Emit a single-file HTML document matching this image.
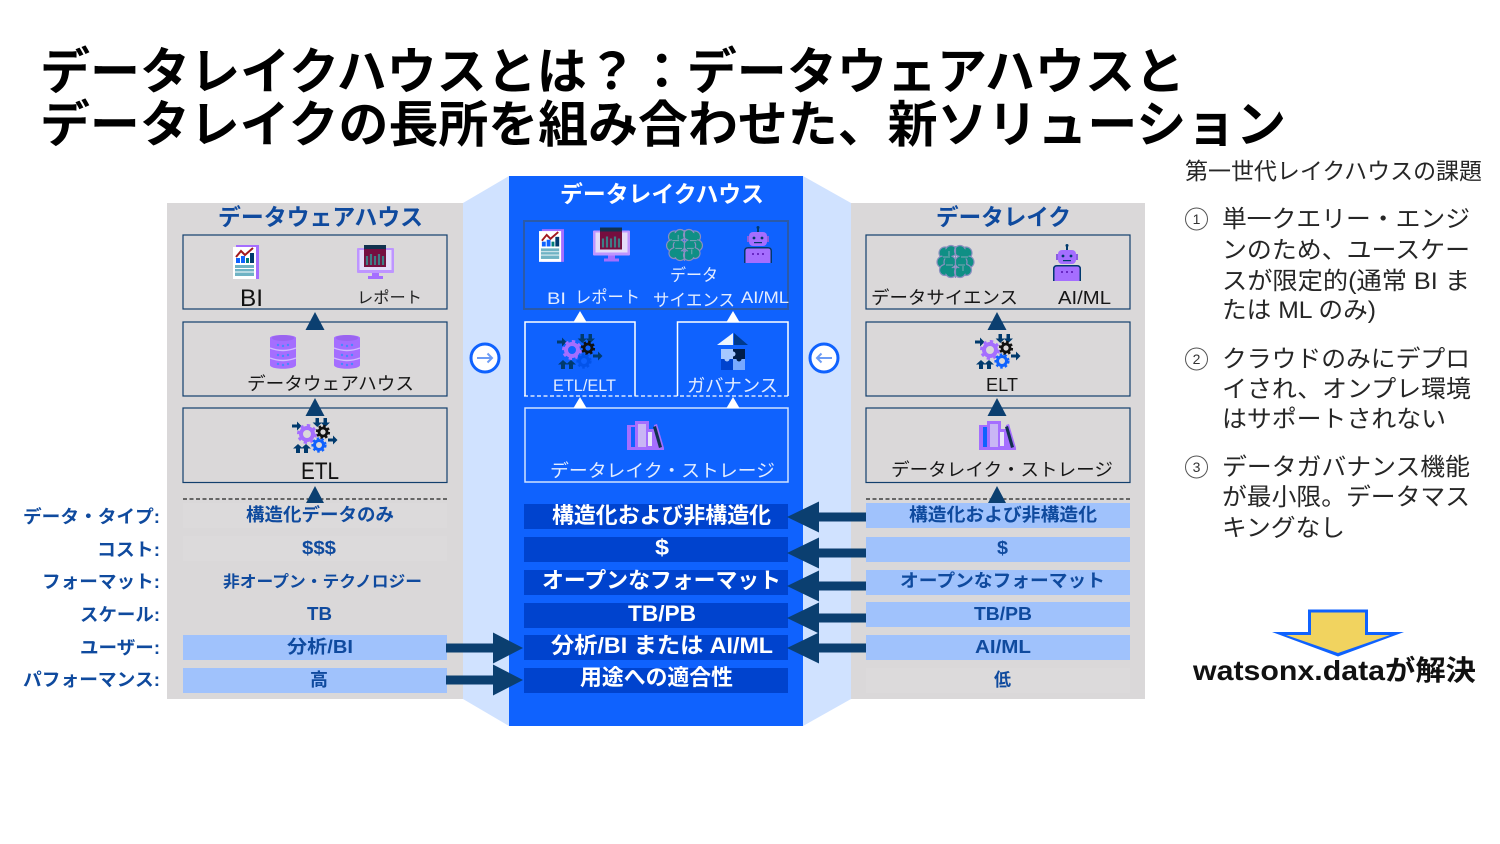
<!DOCTYPE html>
<html lang="ja"><head><meta charset="utf-8"><title>データレイクハウスとは</title>
<style>
html,body{margin:0;padding:0;background:#fff;width:1500px;height:844px;overflow:hidden}
svg{display:block}
text{font-family:"Liberation Sans","Noto Sans CJK JP",sans-serif;}
.t{font-weight:700;fill:#000;font-size:50px}
.h{font-weight:700;font-size:23px}
.lb{font-weight:700;fill:#0f4a9e;font-size:18px}
.w{font-weight:700;fill:#fff;font-size:22px}
.n{fill:#161616;font-size:18px}
.c{fill:#e4edff;font-size:17px}
.r{fill:#262626;font-size:24px}
</style></head><body>
<svg width="1500" height="844" viewBox="0 0 1500 844" xmlns="http://www.w3.org/2000/svg">
<defs>
<symbol id="report" viewBox="0 0 26 34" overflow="visible">
<rect x="3" y="0" width="23" height="34" fill="#a56eff"/><rect x="0" y="2" width="23" height="32" fill="#fff"/>
<polyline points="3,12 8,6 12,10 20,3" fill="none" stroke="#a2191f" stroke-width="2"/>
<rect x="3" y="13" width="4" height="5" fill="#0f62fe"/><rect x="8" y="11" width="4" height="7" fill="#0f62fe"/><rect x="13" y="13" width="3" height="5" fill="#007d79"/><rect x="17" y="8" width="4" height="10" fill="#003a6d"/>
<rect x="2" y="20" width="19" height="11" fill="#6fb3c4"/><path d="M2 23.500h19M2 27h19" stroke="#fff" stroke-width=".9"/>
</symbol>
<symbol id="monitor" viewBox="0 0 37 35" overflow="visible">
<rect x="0" y="3" width="37" height="25" rx="1" fill="#be95ff"/><rect x="2.500" y="5" width="32" height="20" fill="#e4dcf8"/>
<rect x="7" y="0" width="22" height="22" fill="#750e3f"/><rect x="7" y="0" width="22" height="4" fill="#12324f"/>
<path d="M10 11v9M14 9v11M18 11v9M22 9v11M26 11v9" stroke="#3f7d85" stroke-width="2.200"/>
<path d="M15 28h7v3h4v3H11v-3h4z" fill="#a56eff"/>
</symbol>
<symbol id="db" viewBox="0 0 26 35" overflow="visible">
<path d="M0 4C0 0 26 0 26 4V31C26 36 0 36 0 31Z" fill="#a56eff"/>
<ellipse cx="13" cy="4" rx="11" ry="3" fill="#9a64f0"/>
<path d="M0 14q13 5 26 0M0 24q13 5 26 0" fill="none" stroke="#d4bbff" stroke-width="1.400"/>
<g fill="#4589ff"><circle cx="8" cy="11" r="1.200"/><circle cx="13" cy="12" r="1.200"/><circle cx="18" cy="11" r="1.200"/><circle cx="8" cy="21" r="1.200"/><circle cx="13" cy="22" r="1.200"/><circle cx="18" cy="21" r="1.200"/><circle cx="8" cy="30" r="1.200"/><circle cx="13" cy="31" r="1.200"/><circle cx="18" cy="30" r="1.200"/></g>
</symbol>
<symbol id="arrows" viewBox="0 0 46 36" overflow="visible">
<g fill="#003a6d">
<path d="M0 6.500h5V3.500l4.500 4.500-4.500 4.500V9.500H0z"/><path d="M36 20.500h5v-3l4.500 4.500-4.500 4.500v-3h-5z"/>
<path d="M23.500 0h3.500v4.500H30l-4.700 4.500-4.700-4.500h2.900z"/><path d="M31.500 0H35v4.500h3l-4.700 4.500-4.700-4.500h2.900z"/>
<path d="M4 35v-4.500H1l5-4.500 5 4.500H8V35z"/><path d="M12 35v-4.500H9l5-4.500 5 4.500h-3V35z"/>
</g>
</symbol>
<symbol id="brain" viewBox="0 0 37 34" overflow="visible">
<g fill="#0f8f85" stroke="#8a8fc0" stroke-width="1.200">
<circle cx="8" cy="8" r="6"/><circle cx="14" cy="6" r="5.500"/><circle cx="6" cy="17" r="6"/><circle cx="8" cy="25" r="5.500"/><circle cx="14" cy="27" r="5.500"/><circle cx="13" cy="17" r="6"/>
<circle cx="29" cy="8" r="6"/><circle cx="23" cy="6" r="5.500"/><circle cx="31" cy="17" r="6"/><circle cx="29" cy="25" r="5.500"/><circle cx="23" cy="27" r="5.500"/><circle cx="24" cy="17" r="6"/>
</g>
<g fill="#0f8f85"><circle cx="10" cy="9" r="5"/><circle cx="13" cy="17" r="5"/><circle cx="10" cy="24" r="5"/><circle cx="27" cy="9" r="5"/><circle cx="24" cy="17" r="5"/><circle cx="27" cy="24" r="5"/></g>
<path d="M18.500 1V33" stroke="#8a8fc0" stroke-width="1.200"/>
<path d="M6 12h7M9 20h7M24 12h7M21 20h7M12 6v5M26 26v-5" stroke="#7fa8b8" stroke-width="1" fill="none"/>
</symbol>
<symbol id="robot" viewBox="0 0 28 37" overflow="visible">
<circle cx="14" cy="1.500" r="1.500" fill="#003a6d"/><rect x="13" y="2" width="2" height="4" fill="#003a6d"/>
<rect x="5" y="6" width="18" height="14" rx="4" fill="#a56eff"/>
<rect x="3" y="10" width="2" height="6" fill="#8a5ce0"/><rect x="23" y="10" width="2" height="6" fill="#8a5ce0"/>
<circle cx="10" cy="12" r="1.400" fill="#003a6d"/><circle cx="18" cy="12" r="1.400" fill="#003a6d"/><rect x="10" y="16" width="8" height="1.200" fill="#003a6d"/>
<path d="M0 37V25q0-4 4-4h20q4 0 4 4v12z" fill="#a56eff"/><path d="M0 37V25q0-4 4-4h20q4 0 4 4v12h-1.500V25q0-2.500-2.500-2.500H4q-2.500 0-2.500 2.500v12z" fill="#003a6d"/>
<rect x="8" y="27" width="2" height="2" fill="#6929c4"/><rect x="13" y="27" width="2" height="2" fill="#6929c4"/><rect x="18" y="27" width="2" height="2" fill="#6929c4"/>
</symbol>
<symbol id="books" viewBox="0 0 37 29" overflow="visible">
<path d="M0 4h8V0h14v8h5V4l3-1 7 24v2H0z" fill="#a56eff"/>
<rect x="4" y="6" width="4" height="20" fill="#0f62fe"/><rect x="11" y="3" width="8" height="23" fill="#c9b6f5"/>
<rect x="21" y="11" width="4" height="14" fill="#e8e4f8"/><path d="M26 6l3-1 6 21-3 1z" fill="#12324f"/>
</symbol>
<symbol id="puzzle" viewBox="0 0 31 37" overflow="visible">
<path d="M16 0L0 12h16z" fill="#edf5ff"/><path d="M17 0L31 12H17z" fill="#003a8c"/>
<rect x="4" y="16" width="12" height="10" fill="#a6c8ff"/><rect x="16" y="16" width="12" height="10" fill="#001d4a"/>
<rect x="4" y="26" width="12" height="11" fill="#0043ce"/><rect x="16" y="26" width="12" height="11" fill="#78a9ff"/>
<circle cx="16" cy="21" r="2.500" fill="#a6c8ff"/><circle cx="22" cy="26" r="2.500" fill="#001d4a"/><circle cx="10" cy="26" r="2.500" fill="#a6c8ff"/>
</symbol>
<g id="gearsL">
<use href="#arrows" width="46" height="36"/>
<circle cx="15" cy="16" r="6" fill="none" stroke="#a56eff" stroke-width="4"/><circle cx="15" cy="16" r="8.500" fill="none" stroke="#a56eff" stroke-width="3" stroke-dasharray="3.300 3.300"/>
<circle cx="31" cy="14" r="4" fill="none" stroke="#111" stroke-width="2.800"/><circle cx="31" cy="14" r="6" fill="none" stroke="#111" stroke-width="2.200" stroke-dasharray="2.500 2.200"/>
</g>
<polygon id="tw" points="0,-11 6.500,0 -6.500,0" fill="#fff"/>
<polygon id="td" points="0,-18 9.500,0 -9.500,0" fill="#0b3f70"/>
<path id="al" d="M0 0L32-15.500V-4.500H79V4.500H32V15.500Z" fill="#0b3f70"/>
<path id="ar" d="M77 0L47-15.500V-4.500H0V4.500H47V15.500Z" fill="#0b3f70"/>
</defs>

<!-- title -->
<text class="t" x="40" y="89" textLength="1145" lengthAdjust="spacingAndGlyphs">データレイクハウスとは？：データウェアハウスと</text>
<text class="t" x="40" y="142" textLength="1246" lengthAdjust="spacingAndGlyphs">データレイクの長所を組み合わせた、新ソリューション</text>

<!-- backgrounds -->
<polygon points="463,203 509,176 509,726 463,699" fill="#d0e2ff"/>
<polygon points="803,176 851,203 851,699 803,726" fill="#d0e2ff"/>
<rect x="167" y="203" width="296" height="496" fill="#dad8d9"/>
<rect x="851" y="203" width="294" height="496" fill="#dad8d9"/>
<rect x="509" y="176" width="294" height="550" fill="#0f62fe"/>

<!-- left panel -->
<text class="h" x="218" y="225" textLength="205" lengthAdjust="spacingAndGlyphs" fill="#0f4a9e">データウェアハウス</text>
<g fill="none" stroke="#123f6d" stroke-width="1.200">
<rect x="183" y="235" width="264" height="74"/><rect x="183" y="322" width="264" height="74"/><rect x="183" y="408" width="264" height="74.500"/>
<rect x="866" y="235" width="264" height="74"/><rect x="866" y="322" width="264" height="74"/><rect x="866" y="408" width="264" height="74.500"/>
</g>
<use href="#report" x="233" y="245" width="26" height="34"/>
<use href="#monitor" x="357" y="245" width="37" height="35"/>
<use href="#db" x="270" y="334" width="26" height="35"/>
<use href="#db" x="334" y="334" width="26" height="35"/>
<use href="#gearsL" x="292" y="418"/>
<circle cx="319" cy="445" r="4.500" fill="none" stroke="#0f62fe" stroke-width="3"/><circle cx="319" cy="445" r="6.500" fill="none" stroke="#0f62fe" stroke-width="2.200" stroke-dasharray="2.500 2.200"/>
<text x="240" y="306" font-size="24" fill="#111" textLength="23" lengthAdjust="spacingAndGlyphs">BI</text>
<text x="357" y="303" font-size="16" fill="#222" textLength="65" lengthAdjust="spacingAndGlyphs">レポート</text>
<text class="n" x="247" y="390" textLength="167" lengthAdjust="spacingAndGlyphs">データウェアハウス</text>
<text x="301" y="479" font-size="24" fill="#111" textLength="38" lengthAdjust="spacingAndGlyphs">ETL</text>
<path d="M183 499H447M866 499H1130" stroke="#222" stroke-width="1.200" stroke-dasharray="4 2.500"/>
<use href="#td" x="315" y="330"/><use href="#td" x="315" y="416"/><use href="#td" x="315" y="504"/>
<use href="#td" x="997" y="330"/><use href="#td" x="997" y="416"/><use href="#td" x="997" y="504"/>

<!-- left rows -->
<g fill="#dcdadb"><rect x="183" y="503" width="264" height="25"/><rect x="183" y="536" width="264" height="25"/></g>
<g fill="#a0c2fc"><rect x="183" y="635" width="264" height="25"/><rect x="183" y="668" width="264" height="25"/>
<rect x="866" y="503" width="264" height="25"/><rect x="866" y="537" width="264" height="25"/><rect x="866" y="570" width="264" height="25"/><rect x="866" y="602" width="264" height="25"/><rect x="866" y="635" width="264" height="25"/></g>
<rect x="866" y="668" width="264" height="25" fill="#dcdadb"/>

<text class="lb" x="246" y="521" textLength="148" lengthAdjust="spacingAndGlyphs">構造化データのみ</text>
<text class="lb" x="302" y="554" textLength="34" lengthAdjust="spacingAndGlyphs">$$$</text>
<text class="lb" x="223" y="587" style="font-size:16px" textLength="199" lengthAdjust="spacingAndGlyphs">非オープン・テクノロジー</text>
<text class="lb" x="307" y="620" textLength="25" lengthAdjust="spacingAndGlyphs">TB</text>
<text class="lb" x="287" y="653" textLength="66" lengthAdjust="spacingAndGlyphs">分析/BI</text>
<text class="lb" x="310" y="686" textLength="18" lengthAdjust="spacingAndGlyphs">高</text>

<text class="lb" x="23" y="523" textLength="137" lengthAdjust="spacingAndGlyphs">データ・タイプ:</text>
<text class="lb" x="97" y="556" textLength="63" lengthAdjust="spacingAndGlyphs">コスト:</text>
<text class="lb" x="42" y="588" textLength="118" lengthAdjust="spacingAndGlyphs">フォーマット:</text>
<text class="lb" x="80" y="621" textLength="80" lengthAdjust="spacingAndGlyphs">スケール:</text>
<text class="lb" x="80" y="654" textLength="80" lengthAdjust="spacingAndGlyphs">ユーザー:</text>
<text class="lb" x="23" y="686" textLength="137" lengthAdjust="spacingAndGlyphs">パフォーマンス:</text>

<!-- center panel -->
<text class="h" x="560" y="202" fill="#fff" textLength="204" lengthAdjust="spacingAndGlyphs">データレイクハウス</text>
<rect x="524" y="221" width="264" height="88" fill="none" stroke="#2b5aa8" stroke-width="2"/>
<path d="M525 396V322H635V396M677.500 396V322H788V396" fill="none" stroke="#fff" stroke-width="1.500"/>
<path d="M524 396H788" stroke="#fff" stroke-width="1.300" stroke-dasharray="4 2.500"/>
<rect x="525" y="408" width="263" height="74" fill="none" stroke="#d0e2ff" stroke-width="1.500"/>
<use href="#tw" x="580" y="322"/><use href="#tw" x="733" y="322"/><use href="#tw" x="580" y="408"/><use href="#tw" x="733" y="408"/>
<use href="#report" x="539" y="229" width="25" height="33"/>
<use href="#monitor" x="593" y="227" width="37" height="36"/>
<use href="#brain" x="666" y="229" width="37" height="33"/>
<use href="#robot" x="744" y="226" width="28" height="37"/>
<use href="#gearsL" x="557" y="334"/>
<circle cx="584" cy="361" r="4.500" fill="none" stroke="#0353e9" stroke-width="3"/><circle cx="584" cy="361" r="6.500" fill="none" stroke="#0353e9" stroke-width="2.200" stroke-dasharray="2.500 2.200"/>
<use href="#puzzle" x="717" y="333" width="31" height="37"/>
<use href="#books" x="627" y="421" width="37" height="29"/>
<text class="c" x="547" y="304" textLength="19" lengthAdjust="spacingAndGlyphs">BI</text>
<text class="c" x="575" y="303" textLength="65" lengthAdjust="spacingAndGlyphs">レポート</text>
<text class="c" x="670" y="281" textLength="48" lengthAdjust="spacingAndGlyphs">データ</text>
<text class="c" x="653" y="306" textLength="82" lengthAdjust="spacingAndGlyphs">サイエンス</text>
<text class="c" x="741" y="303" textLength="48" lengthAdjust="spacingAndGlyphs">AI/ML</text>
<text class="c" x="553" y="391" textLength="63" lengthAdjust="spacingAndGlyphs">ETL/ELT</text>
<text class="c" x="687" y="392" style="font-size:18px" textLength="91" lengthAdjust="spacingAndGlyphs">ガバナンス</text>
<text class="c" x="550" y="477" style="font-size:18px" textLength="225" lengthAdjust="spacingAndGlyphs">データレイク・ストレージ</text>

<g fill="#0043ce"><rect x="524" y="504" width="264" height="25"/><rect x="524" y="537" width="264" height="25"/><rect x="524" y="570" width="264" height="25"/><rect x="524" y="603" width="264" height="25"/><rect x="524" y="635" width="264" height="25"/><rect x="524" y="668" width="264" height="25"/></g>
<text class="w" x="552" y="523" textLength="219" lengthAdjust="spacingAndGlyphs">構造化および非構造化</text>
<text class="w" x="655" y="555" textLength="14" lengthAdjust="spacingAndGlyphs">$</text>
<text class="w" x="542" y="588" textLength="239" lengthAdjust="spacingAndGlyphs">オープンなフォーマット</text>
<text class="w" x="628" y="621" textLength="68" lengthAdjust="spacingAndGlyphs">TB/PB</text>
<text class="w" x="551" y="653" textLength="222" lengthAdjust="spacingAndGlyphs">分析/BI または AI/ML</text>
<text class="w" x="580" y="685" textLength="153" lengthAdjust="spacingAndGlyphs">用途への適合性</text>

<!-- right panel -->
<text class="h" x="936" y="225" fill="#0f4a9e" textLength="135" lengthAdjust="spacingAndGlyphs">データレイク</text>
<use href="#brain" x="937" y="245" width="37" height="34"/>
<use href="#robot" x="1053" y="244" width="28" height="37"/>
<use href="#gearsL" x="975" y="334"/>
<circle cx="1002" cy="361" r="4.500" fill="none" stroke="#0f62fe" stroke-width="3"/><circle cx="1002" cy="361" r="6.500" fill="none" stroke="#0f62fe" stroke-width="2.200" stroke-dasharray="2.500 2.200"/>
<use href="#books" x="979" y="421" width="37" height="29"/>
<text class="n" x="871" y="304" textLength="147" lengthAdjust="spacingAndGlyphs">データサイエンス</text>
<text class="n" x="1058" y="304" textLength="53" lengthAdjust="spacingAndGlyphs">AI/ML</text>
<text class="n" x="986" y="391" textLength="32" lengthAdjust="spacingAndGlyphs">ELT</text>
<text class="n" x="891" y="476" textLength="222" lengthAdjust="spacingAndGlyphs">データレイク・ストレージ</text>
<text class="lb" x="909" y="521" textLength="188" lengthAdjust="spacingAndGlyphs">構造化および非構造化</text>
<text class="lb" x="997" y="554" textLength="11" lengthAdjust="spacingAndGlyphs">$</text>
<text class="lb" x="900" y="587" textLength="205" lengthAdjust="spacingAndGlyphs">オープンなフォーマット</text>
<text class="lb" x="974" y="620" textLength="58" lengthAdjust="spacingAndGlyphs">TB/PB</text>
<text class="lb" x="975" y="653" textLength="56" lengthAdjust="spacingAndGlyphs">AI/ML</text>
<text class="lb" x="994" y="686" textLength="17" lengthAdjust="spacingAndGlyphs">低</text>

<!-- arrows -->
<use href="#al" x="787" y="517"/><use href="#al" x="787" y="553"/><use href="#al" x="787" y="586"/><use href="#al" x="787" y="618"/><use href="#al" x="787" y="648"/>
<use href="#ar" x="446" y="648"/><use href="#ar" x="446" y="680"/>

<!-- circles -->
<circle cx="485" cy="358" r="14" fill="#fff" stroke="#0f62fe" stroke-width="3"/>
<path d="M477 358H492M487.500 353.500L492 358 487.500 362.500" fill="none" stroke="#6d9cf5" stroke-width="2"/>
<circle cx="824" cy="358" r="14" fill="#fff" stroke="#0f62fe" stroke-width="3"/>
<path d="M832 358H817M821.500 353.500L817 358 821.500 362.500" fill="none" stroke="#6d9cf5" stroke-width="2"/>

<!-- right text -->
<text x="1185" y="179" font-size="23" fill="#262626" textLength="297" lengthAdjust="spacingAndGlyphs">第一世代レイクハウスの課題</text>
<g fill="none" stroke="#555" stroke-width="1"><circle cx="1196.500" cy="219" r="11"/><circle cx="1196.500" cy="359" r="11"/><circle cx="1196.500" cy="467" r="11"/></g>
<g font-size="14" fill="#333" text-anchor="middle"><text x="1196.500" y="224">1</text><text x="1196.500" y="364">2</text><text x="1196.500" y="472">3</text></g>
<text class="r" x="1222" y="227" textLength="248" lengthAdjust="spacingAndGlyphs">単一クエリー・エンジ</text>
<text class="r" x="1222" y="258" textLength="248" lengthAdjust="spacingAndGlyphs">ンのため、ユースケー</text>
<text class="r" x="1222" y="289" textLength="248" lengthAdjust="spacingAndGlyphs">スが限定的(通常 BI ま</text>
<text class="r" x="1222" y="318" textLength="154" lengthAdjust="spacingAndGlyphs">たは ML のみ)</text>
<text class="r" x="1222" y="367" textLength="248" lengthAdjust="spacingAndGlyphs">クラウドのみにデプロ</text>
<text class="r" x="1222" y="397" textLength="249" lengthAdjust="spacingAndGlyphs">イされ、オンプレ環境</text>
<text class="r" x="1222" y="427" textLength="224" lengthAdjust="spacingAndGlyphs">はサポートされない</text>
<text class="r" x="1222" y="475" textLength="248" lengthAdjust="spacingAndGlyphs">データガバナンス機能</text>
<text class="r" x="1222" y="505" textLength="248" lengthAdjust="spacingAndGlyphs">が最小限。データマス</text>
<text class="r" x="1222" y="536" textLength="123" lengthAdjust="spacingAndGlyphs">キングなし</text>

<polygon points="1308,609.500 1368,609.500 1368,632 1404,632 1338,656.500 1272,632 1308,632" fill="#0f62fe"/>
<polygon points="1311,612.500 1365,612.500 1365,635 1390,635 1338,653 1286,635 1311,635" fill="#f1d35f"/>
<text x="1193" y="680" font-size="28" font-weight="700" fill="#111" textLength="283" lengthAdjust="spacingAndGlyphs">watsonx.dataが解決</text>
</svg>
</body></html>
